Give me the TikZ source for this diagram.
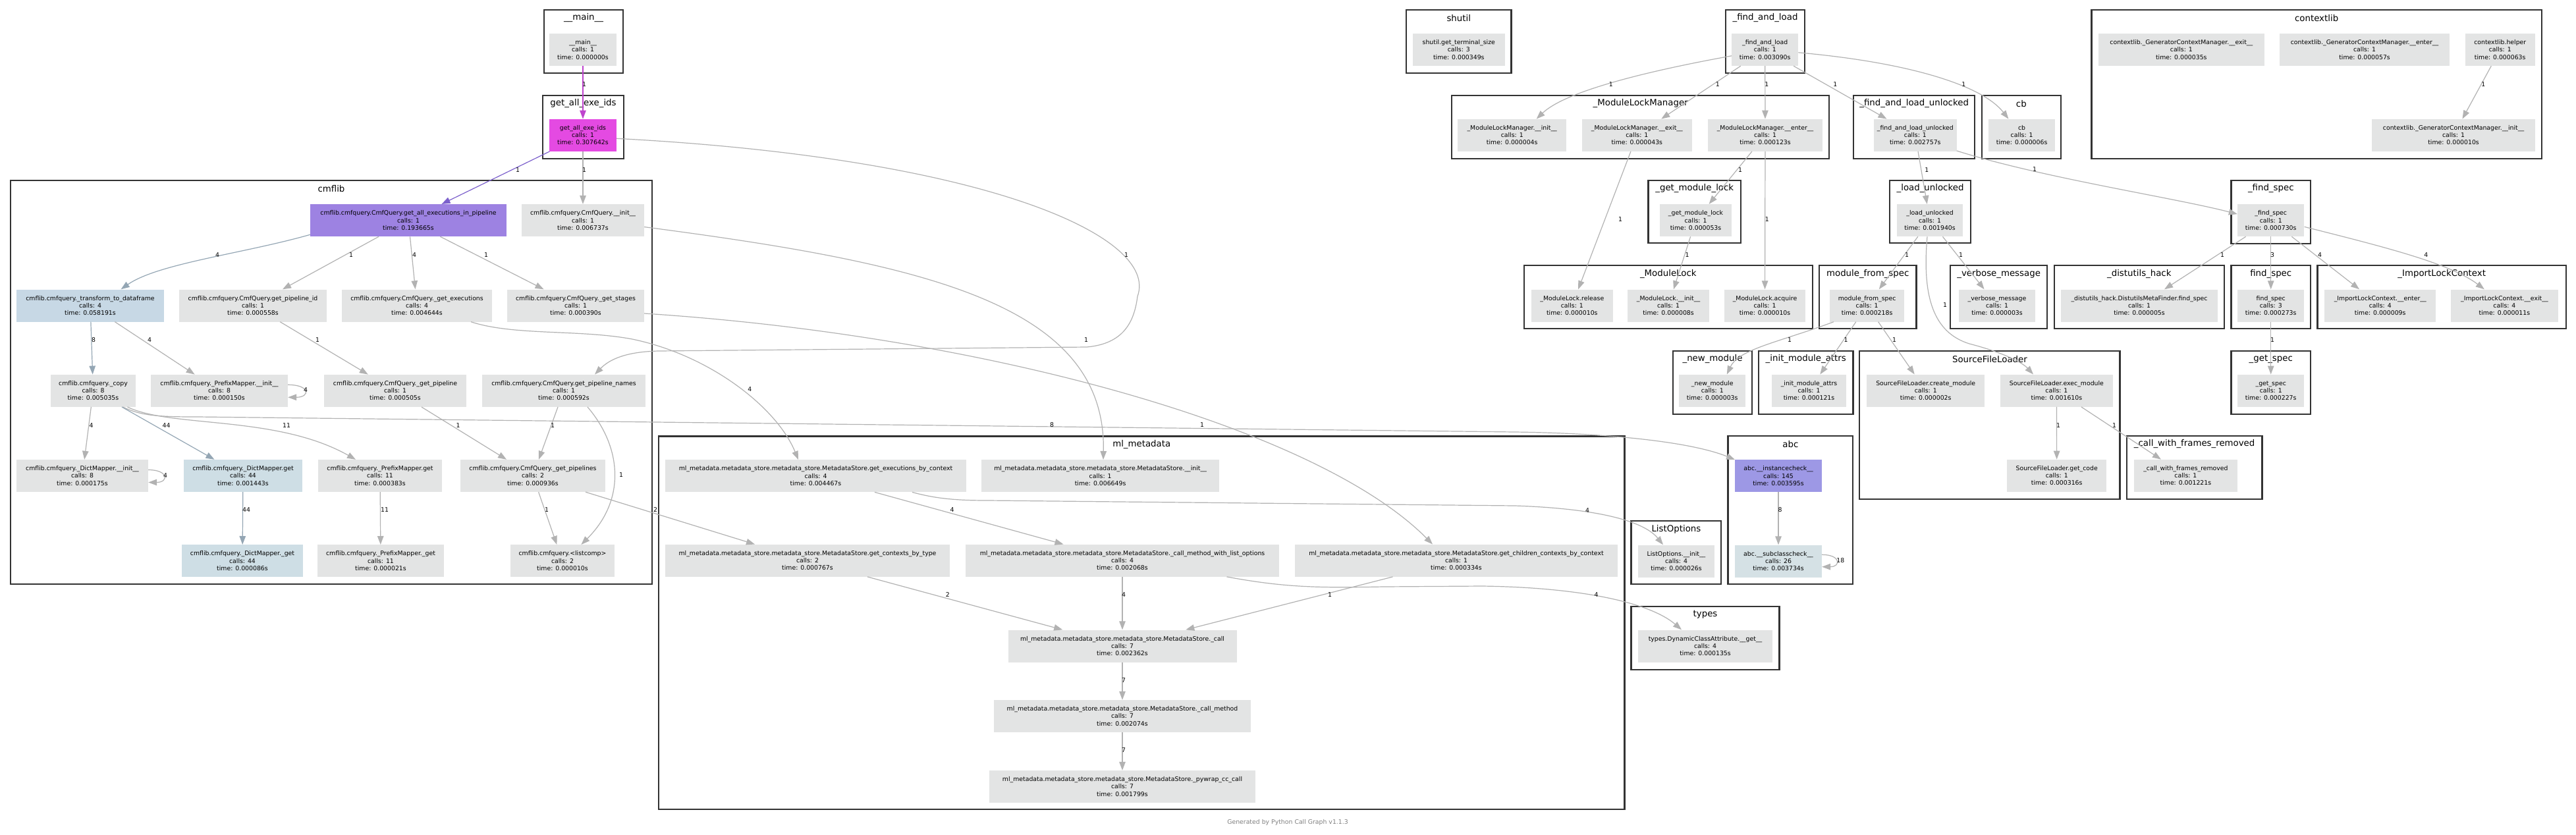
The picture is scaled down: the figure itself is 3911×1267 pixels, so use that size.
\documentclass[tikz,border=0pt]{standalone}
\usepackage{fontspec}
\setmainfont{DejaVu Sans}
\usetikzlibrary{arrows.meta,calc}
\definecolor{nodegray}{RGB}{227,228,228}
\definecolor{nodeblue}{RGB}{199,216,229}
\definecolor{nodebluetwo}{RGB}{206,222,229}
\definecolor{nodebluethree}{RGB}{213,225,229}
\definecolor{purplenode}{RGB}{157,130,226}
\definecolor{abcpurple}{RGB}{157,152,229}
\definecolor{magentanode}{RGB}{228,74,226}
\definecolor{edgegray}{RGB}{178,178,178}
\definecolor{edgeblue}{RGB}{148,166,180}
\definecolor{edgemag}{RGB}{190,68,205}
\definecolor{edgepurp}{RGB}{124,96,204}
\definecolor{clusterdark}{RGB}{51,51,51}
\definecolor{footgray}{RGB}{128,128,128}
\tikzset{
  fn/.style={rectangle, fill=nodegray, draw=none, minimum height=49pt, inner sep=0pt, align=center, font=\fontsize{9.33}{11.2}\selectfont},
  clusterbox/.style={draw=clusterdark, line width=2.2pt, fill=white},
  ctitle/.style={font=\fontsize{13.33}{16}\selectfont, inner sep=0pt},
  edge/.style={draw=edgegray, line width=1.2pt, -{Triangle[length=13pt,width=9.5pt]}},
  edgeb/.style={edge, draw=edgeblue},
  edgem/.style={edge, draw=edgemag},
  edgep/.style={edge, draw=edgepurp},
  elab/.style={font=\fontsize{9.33}{11}\selectfont, inner sep=0pt},
}
\newcommand\mkcluster[6]{\draw[clusterbox] (#2,#3) rectangle (#4,#5); \node[ctitle] (#1) at ({(#2+#4)/2},{#3+12.5}) {#6};}
\newcommand\fnode[6][nodegray]{\node[fn, fill=#1, minimum width=#5pt] (#2) at (#3,#4) {#6};}
\newcommand\mlprefix{ml\_metadata.metadata\_store.metadata\_store.MetadataStore.}
\newcommand\cmq{cmflib.cmfquery.}
\begin{document}
\begin{tikzpicture}[x=1pt,y=-1pt]
\useasboundingbox (0,0) rectangle (3911,1267);
% clusters
\mkcluster{t_main}{826}{15}{946}{111}{\_\_main\_\_}
\mkcluster{t_getall}{824}{144.7}{947}{240.7}{get\_all\_exe\_ids}
\mkcluster{t_cmflib}{16}{274}{990}{886.6}{cmflib}
\mkcluster{t_ml}{1000}{662.5}{2466.5}{1229}{ml\_metadata}
\mkcluster{t_shutil}{2135}{15}{2294.5}{111}{shutil}
\mkcluster{t_fal}{2620}{15}{2740}{111}{\_find\_and\_load}
\mkcluster{t_mlm}{2204}{144.7}{2777.3}{240.7}{\_ModuleLockManager}
\mkcluster{t_falu}{2814.3}{144.7}{2998}{240.7}{\_find\_and\_load\_unlocked}
\mkcluster{t_cb}{3008.7}{144.7}{3129}{240.7}{cb}
\mkcluster{t_ctx}{3175.5}{15}{3858.7}{240.7}{contextlib}
\mkcluster{t_gml}{2502.5}{274}{2643}{369.3}{\_get\_module\_lock}
\mkcluster{t_lu}{2869}{274}{2992}{369.3}{\_load\_unlocked}
\mkcluster{t_fs}{3387.5}{274}{3508}{370}{\_find\_spec}
\mkcluster{t_mlk}{2314}{403.3}{2751.6}{499}{\_ModuleLock}
\mkcluster{t_mfs}{2762}{403.3}{2909.4}{499}{module\_from\_spec}
\mkcluster{t_vm}{2961}{403.3}{3108.3}{499}{\_verbose\_message}
\mkcluster{t_dh}{3118.6}{403.3}{3377}{499}{\_distutils\_hack}
\mkcluster{t_findspec}{3387.5}{403.3}{3508}{499}{find\_spec}
\mkcluster{t_ilc}{3518.4}{403.3}{3896}{499}{\_ImportLockContext}
\mkcluster{t_nm}{2539.7}{532.7}{2660.3}{628.7}{\_new\_module}
\mkcluster{t_ima}{2670}{532.7}{2813.5}{628.7}{\_init\_module\_attrs}
\mkcluster{t_sfl}{2823.3}{532.7}{3218.5}{757.7}{SourceFileLoader}
\mkcluster{t_gs}{3387.5}{532.7}{3508}{629}{\_get\_spec}
\mkcluster{t_cwfr}{3228.8}{661.7}{3434.5}{757.7}{\_call\_with\_frames\_removed}
\mkcluster{t_abc}{2623.5}{662.3}{2813.3}{887.3}{abc}
\mkcluster{t_lo}{2476.5}{791}{2613.3}{887.3}{ListOptions}
\mkcluster{t_types}{2476.5}{920.7}{2701.5}{1016.7}{types}
% nodes top
\fnode{main}{885}{75.5}{102}{\_\_main\_\_\\calls: 1\\time: 0.000000s}
\fnode[magentanode]{getall}{885}{205.3}{102}{get\_all\_exe\_ids\\calls: 1\\time: 0.307642s}
\fnode{shutil}{2214.8}{75.5}{140}{shutil.get\_terminal\_size\\calls: 3\\time: 0.000349s}
\fnode{fal}{2679.7}{75.5}{101}{\_find\_and\_load\\calls: 1\\time: 0.003090s}
\fnode{mlminit}{2295.7}{205.3}{164.5}{\_ModuleLockManager.\_\_init\_\_\\calls: 1\\time: 0.000004s}
\fnode{mlmexit}{2485.3}{205.3}{167}{\_ModuleLockManager.\_\_exit\_\_\\calls: 1\\time: 0.000043s}
\fnode{mlmenter}{2680}{205.3}{174}{\_ModuleLockManager.\_\_enter\_\_\\calls: 1\\time: 0.000123s}
\fnode{falu}{2907.8}{205.3}{125.6}{\_find\_and\_load\_unlocked\\calls: 1\\time: 0.002757s}
\fnode{cb}{3069.6}{205.3}{101}{cb\\calls: 1\\time: 0.000006s}
\fnode{ctxexit}{3311.8}{75.5}{251.5}{contextlib.\_GeneratorContextManager.\_\_exit\_\_\\calls: 1\\time: 0.000035s}
\fnode{ctxenter}{3590}{75.5}{258.6}{contextlib.\_GeneratorContextManager.\_\_enter\_\_\\calls: 1\\time: 0.000057s}
\fnode{ctxhelper}{3795.7}{75.5}{106.3}{contextlib.helper\\calls: 1\\time: 0.000063s}
\fnode{ctxinit}{3725}{205.3}{247.5}{contextlib.\_GeneratorContextManager.\_\_init\_\_\\calls: 1\\time: 0.000010s}
\fnode{gml}{2574.5}{334.6}{109}{\_get\_module\_lock\\calls: 1\\time: 0.000053s}
\fnode{lu}{2930}{334.6}{100.6}{\_load\_unlocked\\calls: 1\\time: 0.001940s}
\fnode{fs}{3447.7}{334.6}{101.4}{\_find\_spec\\calls: 1\\time: 0.000730s}
\fnode{mlrelease}{2386.8}{464}{123.5}{\_ModuleLock.release\\calls: 1\\time: 0.000010s}
\fnode{mlinit}{2533}{464}{123.5}{\_ModuleLock.\_\_init\_\_\\calls: 1\\time: 0.000008s}
\fnode{mlacquire}{2679.5}{464}{123.5}{\_ModuleLock.acquire\\calls: 1\\time: 0.000010s}
\fnode{mfs}{2834.6}{464}{113}{module\_from\_spec\\calls: 1\\time: 0.000218s}
\fnode{vm}{3032}{464}{116}{\_verbose\_message\\calls: 1\\time: 0.000003s}
\fnode{dh}{3248}{464}{237.8}{\_distutils\_hack.DistutilsMetaFinder.find\_spec\\calls: 1\\time: 0.000005s}
\fnode{findspec}{3447.7}{464}{101.4}{find\_spec\\calls: 3\\time: 0.000273s}
\fnode{ilcenter}{3613.7}{464}{169.3}{\_ImportLockContext.\_\_enter\_\_\\calls: 4\\time: 0.000009s}
\fnode{ilcexit}{3802.4}{464}{163.2}{\_ImportLockContext.\_\_exit\_\_\\calls: 4\\time: 0.000011s}
\fnode{nm}{2599.7}{593.2}{101.5}{\_new\_module\\calls: 1\\time: 0.000003s}
\fnode{ima}{2746.5}{593.2}{113}{\_init\_module\_attrs\\calls: 1\\time: 0.000121s}
\fnode{sflcreate}{2923.7}{593.2}{179.3}{SourceFileLoader.create\_module\\calls: 1\\time: 0.000002s}
\fnode{sflexec}{3122.4}{593.2}{171.3}{SourceFileLoader.exec\_module\\calls: 1\\time: 0.001610s}
\fnode{gs}{3447.7}{593.2}{101.4}{\_get\_spec\\calls: 1\\time: 0.000227s}
\fnode{sflgetcode}{3122.7}{722.3}{151.5}{SourceFileLoader.get\_code\\calls: 1\\time: 0.000316s}
\fnode{cwfr}{3318.4}{722.3}{157.2}{\_call\_with\_frames\_removed\\calls: 1\\time: 0.001221s}
\fnode[abcpurple]{abcinst}{2700}{722.7}{131.8}{abc.\_\_instancecheck\_\_\\calls: 145\\time: 0.003595s}
\fnode[nodebluethree]{abcsub}{2700}{852}{131.8}{abc.\_\_subclasscheck\_\_\\calls: 26\\time: 0.003734s}
\fnode{loinit}{2545}{852}{116}{ListOptions.\_\_init\_\_\\calls: 4\\time: 0.000026s}
\fnode{types}{2589}{981}{204}{types.DynamicClassAttribute.\_\_get\_\_\\calls: 4\\time: 0.000135s}
% cmflib nodes
\fnode[purplenode]{cgaeip}{620}{334.6}{298}{\cmq CmfQuery.get\_all\_executions\_in\_pipeline\\calls: 1\\time: 0.193665s}
\fnode{cinit}{885}{334.6}{186}{\cmq CmfQuery.\_\_init\_\_\\calls: 1\\time: 0.006737s}
\fnode[nodeblue]{cttd}{137}{464}{224}{\cmq\_transform\_to\_dataframe\\calls: 4\\time: 0.058191s}
\fnode{cgpid}{384}{464}{224}{\cmq CmfQuery.get\_pipeline\_id\\calls: 1\\time: 0.000558s}
\fnode{cgexe}{633}{464}{228}{\cmq CmfQuery.\_get\_executions\\calls: 4\\time: 0.004644s}
\fnode{cgst}{874}{464}{208}{\cmq CmfQuery.\_get\_stages\\calls: 1\\time: 0.000390s}
\fnode{ccopy}{141.5}{593.3}{129.4}{\cmq\_copy\\calls: 8\\time: 0.005035s}
\fnode{cpmi}{333}{593.3}{208}{\cmq\_PrefixMapper.\_\_init\_\_\\calls: 8\\time: 0.000150s}
\fnode{cgp}{600}{593.3}{216}{\cmq CmfQuery.\_get\_pipeline\\calls: 1\\time: 0.000505s}
\fnode{cgpn}{856}{593.3}{248}{\cmq CmfQuery.get\_pipeline\_names\\calls: 1\\time: 0.000592s}
\fnode{cdmi}{125}{722.5}{200}{\cmq\_DictMapper.\_\_init\_\_\\calls: 8\\time: 0.000175s}
\fnode[nodebluetwo]{cdmg}{369}{722.5}{180}{\cmq\_DictMapper.get\\calls: 44\\time: 0.001443s}
\fnode{cpmg}{577}{722.5}{188}{\cmq\_PrefixMapper.get\\calls: 11\\time: 0.000383s}
\fnode{cgps}{809}{722.5}{219.5}{\cmq CmfQuery.\_get\_pipelines\\calls: 2\\time: 0.000936s}
\fnode[nodebluetwo]{cdmgg}{368}{851.7}{184}{\cmq\_DictMapper.\_get\\calls: 44\\time: 0.000086s}
\fnode{cpmgg}{578}{851.7}{192}{\cmq\_PrefixMapper.\_get\\calls: 11\\time: 0.000021s}
\fnode{clc}{854}{851.7}{158}{\cmq<listcomp>\\calls: 2\\time: 0.000010s}
% ml_metadata nodes
\fnode{mgebc}{1238.5}{722.7}{457}{\mlprefix get\_executions\_by\_context\\calls: 4\\time: 0.004467s}
\fnode{minit}{1670.6}{722.7}{361}{\mlprefix\_\_init\_\_\\calls: 1\\time: 0.006649s}
\fnode{mgcbt}{1226}{851.2}{432}{\mlprefix get\_contexts\_by\_type\\calls: 2\\time: 0.000767s}
\fnode{mcmwlo}{1704}{851.2}{476}{\mlprefix\_call\_method\_with\_list\_options\\calls: 4\\time: 0.002068s}
\fnode{mgccbc}{2211}{851.2}{490}{\mlprefix get\_children\_contexts\_by\_context\\calls: 1\\time: 0.000334s}
\fnode{mcall}{1704}{981}{347}{\mlprefix\_call\\calls: 7\\time: 0.002362s}
\fnode{mcallm}{1704}{1087.5}{389.5}{\mlprefix\_call\_method\\calls: 7\\time: 0.002074s}
\fnode{mpywrap}{1704}{1194.5}{404}{\mlprefix\_pywrap\_cc\_call\\calls: 7\\time: 0.001799s}
% edges
\draw[edgem] (main) -- (getall);
\draw[edgep] (getall) -- (cgaeip);
\draw[edge] (getall) -- (cinit);
\draw[edge] ([yshift=-5pt]getall.east) .. controls (1500,240) and (1760,360) .. (1727,450) .. controls (1722,490) and (1705,522) .. (1650,527) -- (1000,533) .. controls (950,534) and (925,546) .. ([xshift=47pt]cgpn.north);
\draw[edge] ([yshift=-10pt]cinit.east) .. controls (1400,400) and (1680,460) .. ([xshift=4.4pt]minit.north);
\draw[edge] ([xshift=82pt]cgexe.south) .. controls (780,510) and (880,500) .. (960,515) .. controls (1080,540) and (1180,620) .. ([xshift=-26.5pt]mgebc.north);
\draw[edge] ([yshift=-12pt]cgst.east) .. controls (1500,510) and (2000,650) .. ([xshift=-36pt]mgccbc.north);
\draw[edge] ([xshift=45pt]ccopy.south) .. controls (215,632) and (245,633) .. (300,633) -- (2300,656) .. controls (2450,658) and (2570,672) .. ([xshift=-66pt]abcinst.north);
\draw[edge] ([xshift=146.4pt]mgebc.south) .. controls (1420,757) and (1450,760) .. (1500,760) -- (2300,768) .. controls (2420,772) and (2495,790) .. ([xshift=-20pt]loinit.north);
\draw[edge] ([xshift=158.5pt]mcmwlo.south) .. controls (1950,892) and (2000,893) .. (2100,891) -- (2250,890) .. controls (2400,892) and (2505,915) .. ([xshift=-36pt]types.north);
\draw[edge] (mgccbc) -- (mcall);
\draw[edge] (mgcbt) -- (mcall);
\draw[edge] (mcmwlo) -- (mcall);
\draw[edge] (mcall) -- (mcallm);
\draw[edge] (mcallm) -- (mpywrap);
\draw[edge] (mgebc) -- (mcmwlo);
\draw[edge] (cgps) -- (mgcbt);
% cmflib edges
\draw[edgeb] ([yshift=3pt]cgaeip.south west) .. controls (370,385) and (240,400) .. ([xshift=46.6pt]cttd.north);
\draw[edge] (cgaeip) -- (cgpid);
\draw[edge] (cgaeip) -- (cgexe);
\draw[edge] (cgaeip) -- (cgst);
\draw[edgeb] (cttd) -- (ccopy);
\draw[edge] (cttd) -- (cpmi);
\draw[edge] (cgpid) -- (cgp);
\draw[edge] ([yshift=9pt]cpmi.east) .. controls +(34,0) and +(34,0) .. ([yshift=-10pt]cpmi.east);
\draw[edge] (ccopy) -- (cdmi);
\draw[edgeb] (ccopy) -- (cdmg);
\draw[edge] ([xshift=52pt]ccopy.south) .. controls (260,650) and (420,630) .. ([xshift=-37pt]cpmg.north);
\draw[edge] (cgp) -- (cgps);
\draw[edge] (cgpn) -- (cgps);
\draw[edge] ([xshift=36pt]cgpn.south) .. controls (945,680) and (950,760) .. ([xshift=28.4pt]clc.north);
\draw[edge] (cgps) -- (clc);
\draw[edge] ([yshift=9pt]cdmi.east) .. controls +(31,0) and +(31,0) .. ([yshift=-10pt]cdmi.east);
\draw[edgeb] (cdmg) -- (cdmgg);
\draw[edge] (cpmg) -- (cpmgg);
% right side edges
\draw[edge] ([yshift=-9.3pt]fal.west) .. controls (2490,110) and (2375,140) .. ([xshift=37pt]mlminit.north);
\draw[edge] (fal) -- (mlmexit);
\draw[edge] (fal) -- (mlmenter);
\draw[edge] (fal) -- (falu);
\draw[edge] ([yshift=-4.3pt]fal.east) .. controls (2900,95) and (3010,130) .. ([xshift=-20.2pt]cb.north);
\draw[edge] (mlmexit) -- (mlrelease);
\draw[edge] (mlmenter) -- (gml);
\draw[edge] (mlmenter) -- (mlacquire);
\draw[edge] (gml) -- (mlinit);
\draw[edge] (falu) -- (lu);
\draw[edge] ([yshift=1pt]falu.south east) .. controls (3100,270) and (3300,300) .. ([yshift=9.5pt]fs.west);
\draw[edge] (lu) -- (mfs);
\draw[edge] (lu) -- (vm);
\draw[edge] ([xshift=-4pt]lu.south) .. controls (2918,450) and (2935,505) .. (2990,522) .. controls (3040,535) and (3070,550) .. ([xshift=-35.4pt]sflexec.north);
\draw[edge] ([xshift=-50.6pt]mfs.south) .. controls (2700,520) and (2640,530) .. ([xshift=22.1pt]nm.north);
\draw[edge] (mfs) -- (ima);
\draw[edge] (mfs) -- (sflcreate);
\draw[edge] (fs) -- (dh);
\draw[edge] (fs) -- (findspec);
\draw[edge] (fs) -- (ilcenter);
\draw[edge] ([yshift=-9.8pt]fs.east) .. controls (3620,375) and (3720,400) .. ([xshift=-30.6pt]ilcexit.north);
\draw[edge] (findspec) -- (gs);
\draw[edge] (sflexec) -- (sflgetcode);
\draw[edge] (sflexec) -- (cwfr);
\draw[edge] (ctxhelper) -- (ctxinit);
\draw[edge] (abcinst) -- (abcsub);
\draw[edge] ([yshift=9.7pt]abcsub.east) .. controls +(29,0) and +(29,0) .. ([yshift=-8.7pt]abcsub.east);
% edge labels
\node[elab] (l1) at (887,127.7) {1};
\node[elab] (l2) at (786,257.7) {1};
\node[elab] (l3) at (887,257.7) {1};
\node[elab] (l4) at (1710,386.6) {1};
\node[elab] (l5) at (1649,515.6) {1};
\node[elab] (l6) at (1138.4,591.5) {4};
\node[elab] (l7) at (1825,645.5) {1};
\node[elab] (l8) at (1597,645.5) {8};
\node[elab] (l9) at (2410,775) {4};
\node[elab] (l10) at (2423.5,903.3) {4};
\node[elab] (l11) at (2019,903.3) {1};
\node[elab] (l12) at (1438.8,903.3) {2};
\node[elab] (l13) at (1706,903.3) {4};
\node[elab] (l14) at (1706,1033.3) {7};
\node[elab] (l15) at (1706,1139.3) {7};
\node[elab] (l16) at (1445.6,774.5) {4};
\node[elab] (l17) at (995,774.5) {2};
\node[elab] (l18) at (330,386.7) {4};
\node[elab] (l19) at (533,386.7) {1};
\node[elab] (l20) at (629,386.7) {4};
\node[elab] (l21) at (738,386.7) {1};
\node[elab] (l22) at (142,515.7) {8};
\node[elab] (l23) at (227,515.7) {4};
\node[elab] (l24) at (482,515.7) {1};
\node[elab] (l25) at (464,591.7) {4};
\node[elab] (l26) at (138.5,646) {4};
\node[elab] (l27) at (252.5,646) {44};
\node[elab] (l28) at (435,646) {11};
\node[elab] (l29) at (695.6,646) {1};
\node[elab] (l30) at (839,646) {1};
\node[elab] (l31) at (943,721.5) {1};
\node[elab] (l32) at (830,774.5) {1};
\node[elab] (l33) at (251,721.7) {4};
\node[elab] (l34) at (374,774.4) {44};
\node[elab] (l35) at (584,774.4) {11};
\node[elab] (l36) at (2445.7,127.7) {1};
\node[elab] (l37) at (2607.7,127.7) {1};
\node[elab] (l38) at (2682.3,127.7) {1};
\node[elab] (l39) at (2786.3,127.7) {1};
\node[elab] (l40) at (2981.4,127.7) {1};
\node[elab] (l41) at (2460,333.3) {1};
\node[elab] (l42) at (2642,257.7) {1};
\node[elab] (l43) at (2682.7,333.3) {1};
\node[elab] (l44) at (2561.6,386.7) {1};
\node[elab] (l45) at (2925.3,257.7) {1};
\node[elab] (l46) at (3089,257.4) {1};
\node[elab] (l47) at (2895,386.7) {1};
\node[elab] (l48) at (2977,386.7) {1};
\node[elab] (l49) at (2953,462.7) {1};
\node[elab] (l50) at (2717,516) {1};
\node[elab] (l51) at (2802.6,516) {1};
\node[elab] (l52) at (2876,516) {1};
\node[elab] (l53) at (3374,386.7) {1};
\node[elab] (l54) at (3450,386.7) {3};
\node[elab] (l55) at (3522,386.7) {4};
\node[elab] (l56) at (3683.4,386.7) {4};
\node[elab] (l57) at (3450,515.7) {1};
\node[elab] (l58) at (3125,645.7) {1};
\node[elab] (l59) at (3210,645.7) {1};
\node[elab] (l60) at (3770.4,127.7) {1};
\node[elab] (l61) at (2702.6,774.3) {8};
\node[elab] (l62) at (2794.4,850.7) {18};
\node[elab, text=footgray] (foot) at (1955,1249.3) {Generated by Python Call Graph v1.1.3};
\end{tikzpicture}
\end{document}
